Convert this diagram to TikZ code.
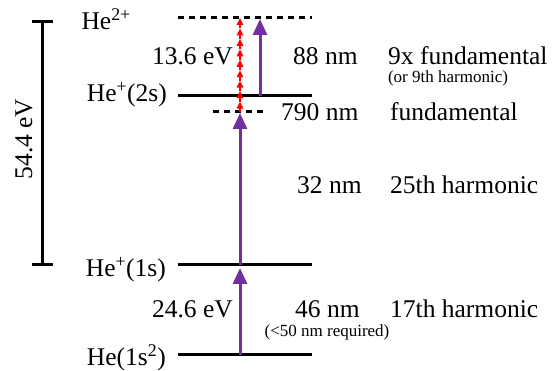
\documentclass[tikz,border=0pt]{standalone}
\usepackage{fontspec}
\setmainfont{Liberation Serif}
\newfontfamily\labelfont{Liberation Serif}
\usetikzlibrary{arrows.meta}
\tikzset{>=latex}
\definecolor{mypurple}{RGB}{112,48,160}
\tikzstyle{level}=[line width=3pt]
\tikzstyle{virtual}=[line width=3pt,dash pattern=on 6pt off 5pt]
\tikzstyle{photon}=[mypurple,line width=3pt,-{Triangle[length=16pt,width=14pt]}]
\tikzstyle{harm}=[red,line width=1.5pt,-{Triangle[length=7pt,width=6.5pt]}]
\tikzstyle{lbl}=[font=\labelfont\fontsize{25.5}{30}\selectfont,inner sep=0pt]
\tikzstyle{note}=[font=\labelfont\fontsize{17}{20}\selectfont,inner sep=0pt]

\begin{document}
\begin{tikzpicture}[x=1pt,y=-1pt]
  \def\xa{178}  % left end of levels
  \def\xb{312}  % right end of levels
  \def\N{9}     % number of fundamental photons
  \useasboundingbox (0,0) rectangle (552,371);

  % energy levels
  \coordinate (g1) at (\xa,355);  \coordinate (g2) at (\xb,355);
  \coordinate (s1) at (\xa,265);  \coordinate (s2) at (\xb,265);
  \coordinate (t1) at (\xa,96);   \coordinate (t2) at (\xb,96);
  \coordinate (v1) at (213,112);  \coordinate (v2) at (267,112);
  \coordinate (i1) at (\xa,18);   \coordinate (i2) at (\xb,18);
  \draw[level] (g1) -- (g2);
  \draw[level] (s1) -- (s2);
  \draw[level] (t1) -- (t2);
  \draw[virtual] (v1) -- (v2);
  \draw[virtual] (i1) -- (i2);

  % scale bar
  \coordinate (bartop) at (42,20);
  \coordinate (barbot) at (42,266);
  \draw[level,{Bar[width=21pt]}-{Bar[width=21pt]}] (bartop) -- (barbot);
  \node[lbl,rotate=90] (total) at (24,139) {54.4 eV};

  % transitions
  \coordinate (a0) at (240,355);  \coordinate (a1) at (240,268);
  \coordinate (b0) at (240,265);  \coordinate (b1) at (240,113);
  \coordinate (c0) at (260,96);   \coordinate (c1) at (260,19);
  \draw[photon] (a0) -- (a1);
  \draw[photon] (b0) -- (b1);
  \draw[photon] (c0) -- (c1);
  \foreach \i in {0,...,\N} {
    \coordinate (r\i) at (240,{112-\i*94/\N});
  }
  \foreach \i [evaluate=\i as \j using int(\i+1)] in {0,...,8} {
    \draw[harm] (r\i) -- (r\j);
  }

  % level names
  \node[lbl,anchor=base east] (he2) at (131,30) {He\textsuperscript{2+}};
  \node[lbl,anchor=base east] (he2s) at (167,102) {He\textsuperscript{+}(2s)};
  \node[lbl,anchor=base east] (he1s) at (166,277) {He\textsuperscript{+}(1s)};
  \node[lbl,anchor=base east] (he) at (166,366) {He(1s\textsuperscript{2})};

  % energies
  \node[lbl,anchor=base east] (e2) at (233,65) {13.6 eV};
  \node[lbl,anchor=base east] (e1) at (233,318) {24.6 eV};

  % wavelengths and harmonics
  \node[lbl,anchor=base west] (w88) at (293,65) {88 nm};
  \node[lbl,anchor=base west] (h88) at (388,65) {9x fundamental};
  \node[note,anchor=base] (n88) at (448,83) {(or 9th harmonic)};
  \node[lbl,anchor=base west] (w790) at (281,121) {790 nm};
  \node[lbl,anchor=base west] (h790) at (390,121) {fundamental};
  \node[lbl,anchor=base west] (w32) at (297,194) {32 nm};
  \node[lbl,anchor=base west] (h32) at (390,194) {25th harmonic};
  \node[lbl,anchor=base west] (w46) at (295,318) {46 nm};
  \node[lbl,anchor=base west] (h46) at (390,318) {17th harmonic};
  \node[note,anchor=base] (n46) at (327,337) {(<50 nm required)};
\end{tikzpicture}
\end{document}
